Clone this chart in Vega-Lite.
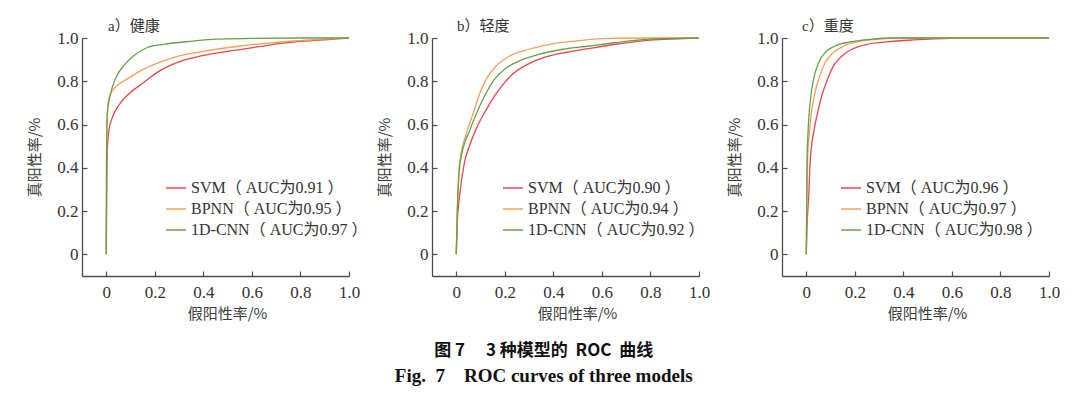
{
  "$schema": "https://vega.github.io/schema/vega-lite/v6.json",
  "padding": {"left": 27, "top": 19, "right": 5, "bottom": 5},
  "background": "white",
  "datasets": {
    "roc": [
      {"p":"a","m":"SVM","x":0,"y":0},{"p":"a","m":"SVM","x":0.002,"y":0.3},{"p":"a","m":"SVM","x":0.005,"y":0.5},{"p":"a","m":"SVM","x":0.012,"y":0.58},{"p":"a","m":"SVM","x":0.023,"y":0.626},{"p":"a","m":"SVM","x":0.05,"y":0.687},{"p":"a","m":"SVM","x":0.085,"y":0.733},{"p":"a","m":"SVM","x":0.154,"y":0.794},{"p":"a","m":"SVM","x":0.208,"y":0.84},{"p":"a","m":"SVM","x":0.26,"y":0.871},{"p":"a","m":"SVM","x":0.31,"y":0.894},{"p":"a","m":"SVM","x":0.39,"y":0.917},{"p":"a","m":"SVM","x":0.51,"y":0.94},{"p":"a","m":"SVM","x":0.63,"y":0.96},{"p":"a","m":"SVM","x":0.72,"y":0.975},{"p":"a","m":"SVM","x":0.85,"y":0.988},{"p":"a","m":"SVM","x":1,"y":1},
      {"p":"a","m":"BPNN","x":0,"y":0},{"p":"a","m":"BPNN","x":0.001,"y":0.4},{"p":"a","m":"BPNN","x":0.002,"y":0.58},{"p":"a","m":"BPNN","x":0.004,"y":0.656},{"p":"a","m":"BPNN","x":0.014,"y":0.733},{"p":"a","m":"BPNN","x":0.044,"y":0.779},{"p":"a","m":"BPNN","x":0.085,"y":0.81},{"p":"a","m":"BPNN","x":0.154,"y":0.856},{"p":"a","m":"BPNN","x":0.236,"y":0.894},{"p":"a","m":"BPNN","x":0.3,"y":0.917},{"p":"a","m":"BPNN","x":0.41,"y":0.94},{"p":"a","m":"BPNN","x":0.55,"y":0.963},{"p":"a","m":"BPNN","x":0.69,"y":0.979},{"p":"a","m":"BPNN","x":0.8,"y":0.988},{"p":"a","m":"BPNN","x":0.9,"y":0.995},{"p":"a","m":"BPNN","x":1,"y":1},
      {"p":"a","m":"1D-CNN","x":0,"y":0},{"p":"a","m":"1D-CNN","x":0.001,"y":0.426},{"p":"a","m":"1D-CNN","x":0.005,"y":0.656},{"p":"a","m":"1D-CNN","x":0.019,"y":0.748},{"p":"a","m":"1D-CNN","x":0.037,"y":0.81},{"p":"a","m":"1D-CNN","x":0.071,"y":0.871},{"p":"a","m":"1D-CNN","x":0.112,"y":0.917},{"p":"a","m":"1D-CNN","x":0.167,"y":0.955},{"p":"a","m":"1D-CNN","x":0.236,"y":0.971},{"p":"a","m":"1D-CNN","x":0.36,"y":0.986},{"p":"a","m":"1D-CNN","x":0.45,"y":0.995},{"p":"a","m":"1D-CNN","x":0.6,"y":0.998},{"p":"a","m":"1D-CNN","x":0.8,"y":1},{"p":"a","m":"1D-CNN","x":1,"y":1},
      {"p":"b","m":"SVM","x":0,"y":0},{"p":"b","m":"SVM","x":0.003,"y":0.12},{"p":"b","m":"SVM","x":0.014,"y":0.273},{"p":"b","m":"SVM","x":0.034,"y":0.426},{"p":"b","m":"SVM","x":0.055,"y":0.503},{"p":"b","m":"SVM","x":0.082,"y":0.58},{"p":"b","m":"SVM","x":0.117,"y":0.656},{"p":"b","m":"SVM","x":0.158,"y":0.733},{"p":"b","m":"SVM","x":0.199,"y":0.794},{"p":"b","m":"SVM","x":0.24,"y":0.84},{"p":"b","m":"SVM","x":0.31,"y":0.887},{"p":"b","m":"SVM","x":0.384,"y":0.917},{"p":"b","m":"SVM","x":0.45,"y":0.933},{"p":"b","m":"SVM","x":0.55,"y":0.952},{"p":"b","m":"SVM","x":0.65,"y":0.97},{"p":"b","m":"SVM","x":0.8,"y":0.99},{"p":"b","m":"SVM","x":1,"y":1},
      {"p":"b","m":"BPNN","x":0,"y":0},{"p":"b","m":"BPNN","x":0.003,"y":0.15},{"p":"b","m":"BPNN","x":0.014,"y":0.426},{"p":"b","m":"BPNN","x":0.027,"y":0.503},{"p":"b","m":"BPNN","x":0.048,"y":0.58},{"p":"b","m":"BPNN","x":0.071,"y":0.656},{"p":"b","m":"BPNN","x":0.093,"y":0.733},{"p":"b","m":"BPNN","x":0.123,"y":0.81},{"p":"b","m":"BPNN","x":0.165,"y":0.871},{"p":"b","m":"BPNN","x":0.22,"y":0.917},{"p":"b","m":"BPNN","x":0.3,"y":0.948},{"p":"b","m":"BPNN","x":0.384,"y":0.971},{"p":"b","m":"BPNN","x":0.49,"y":0.986},{"p":"b","m":"BPNN","x":0.6,"y":0.997},{"p":"b","m":"BPNN","x":0.75,"y":1},{"p":"b","m":"BPNN","x":1,"y":1},
      {"p":"b","m":"1D-CNN","x":0,"y":0},{"p":"b","m":"1D-CNN","x":0.003,"y":0.15},{"p":"b","m":"1D-CNN","x":0.016,"y":0.426},{"p":"b","m":"1D-CNN","x":0.058,"y":0.58},{"p":"b","m":"1D-CNN","x":0.085,"y":0.656},{"p":"b","m":"1D-CNN","x":0.117,"y":0.733},{"p":"b","m":"1D-CNN","x":0.158,"y":0.81},{"p":"b","m":"1D-CNN","x":0.199,"y":0.856},{"p":"b","m":"1D-CNN","x":0.26,"y":0.894},{"p":"b","m":"1D-CNN","x":0.343,"y":0.925},{"p":"b","m":"1D-CNN","x":0.44,"y":0.948},{"p":"b","m":"1D-CNN","x":0.55,"y":0.963},{"p":"b","m":"1D-CNN","x":0.65,"y":0.978},{"p":"b","m":"1D-CNN","x":0.8,"y":0.995},{"p":"b","m":"1D-CNN","x":1,"y":1},
      {"p":"c","m":"SVM","x":0,"y":0},{"p":"c","m":"SVM","x":0.003,"y":0.12},{"p":"c","m":"SVM","x":0.01,"y":0.273},{"p":"c","m":"SVM","x":0.016,"y":0.426},{"p":"c","m":"SVM","x":0.033,"y":0.58},{"p":"c","m":"SVM","x":0.047,"y":0.656},{"p":"c","m":"SVM","x":0.064,"y":0.733},{"p":"c","m":"SVM","x":0.088,"y":0.81},{"p":"c","m":"SVM","x":0.112,"y":0.871},{"p":"c","m":"SVM","x":0.147,"y":0.917},{"p":"c","m":"SVM","x":0.188,"y":0.948},{"p":"c","m":"SVM","x":0.25,"y":0.971},{"p":"c","m":"SVM","x":0.33,"y":0.982},{"p":"c","m":"SVM","x":0.44,"y":0.991},{"p":"c","m":"SVM","x":0.6,"y":0.998},{"p":"c","m":"SVM","x":1,"y":1},
      {"p":"c","m":"BPNN","x":0,"y":0},{"p":"c","m":"BPNN","x":0.002,"y":0.2},{"p":"c","m":"BPNN","x":0.005,"y":0.426},{"p":"c","m":"BPNN","x":0.014,"y":0.58},{"p":"c","m":"BPNN","x":0.033,"y":0.733},{"p":"c","m":"BPNN","x":0.051,"y":0.81},{"p":"c","m":"BPNN","x":0.078,"y":0.887},{"p":"c","m":"BPNN","x":0.112,"y":0.933},{"p":"c","m":"BPNN","x":0.154,"y":0.963},{"p":"c","m":"BPNN","x":0.208,"y":0.982},{"p":"c","m":"BPNN","x":0.29,"y":0.994},{"p":"c","m":"BPNN","x":0.4,"y":1},{"p":"c","m":"BPNN","x":1,"y":1},
      {"p":"c","m":"1D-CNN","x":0,"y":0},{"p":"c","m":"1D-CNN","x":0.002,"y":0.3},{"p":"c","m":"1D-CNN","x":0.003,"y":0.426},{"p":"c","m":"1D-CNN","x":0.008,"y":0.58},{"p":"c","m":"1D-CNN","x":0.019,"y":0.733},{"p":"c","m":"1D-CNN","x":0.03,"y":0.81},{"p":"c","m":"1D-CNN","x":0.051,"y":0.887},{"p":"c","m":"1D-CNN","x":0.078,"y":0.933},{"p":"c","m":"1D-CNN","x":0.119,"y":0.963},{"p":"c","m":"1D-CNN","x":0.18,"y":0.982},{"p":"c","m":"1D-CNN","x":0.263,"y":0.994},{"p":"c","m":"1D-CNN","x":0.35,"y":1},{"p":"c","m":"1D-CNN","x":1,"y":1}
    ]
  },
  "title": {
    "text": "图\u00a07\u3000\u00a03\u00a0种模型的\u00a0\u00a0ROC\u00a0\u00a0曲线",
    "subtitle": "Fig.\u00a0\u00a07\u3000ROC curves of three models",
    "orient": "bottom",
    "anchor": "middle",
    "frame": "bounds",
    "offset": 22,
    "font": "Noto Sans CJK SC",
    "fontSize": 17,
    "fontWeight": "bold",
    "color": "#111",
    "subtitleFont": "Liberation Serif",
    "subtitleFontSize": 19,
    "subtitleFontWeight": "bold",
    "subtitleColor": "#111",
    "subtitlePadding": 7
  },
  "config": {
    "view": {"stroke": null},
    "axis": {
      "grid": false,
      "domainColor": "#4d4d4d",
      "domainWidth": 1.3,
      "tickColor": "#4d4d4d",
      "tickWidth": 1.2,
      "tickSize": -5,
      "labelFont": "Liberation Serif",
      "labelFontSize": 17,
      "labelColor": "#333",
      "labelFlush": false,
      "titleFont": "Noto Sans CJK SC",
      "titleFontSize": 15,
      "titleFontWeight": "normal",
      "titleColor": "#3a3a3a"
    },
    "axisX": {"labelPadding": 13, "titlePadding": 6},
    "axisY": {"labelPadding": 9, "titlePadding": 14},
    "legend": {
      "orient": "none",
      "title": null,
      "symbolType": "stroke",
      "symbolSize": 400,
      "symbolStrokeWidth": 1.5,
      "labelFont": "Liberation Serif, Noto Sans CJK SC",
      "labelFontSize": 16,
      "labelColor": "#333",
      "labelLimit": 300,
      "labelOffset": 4,
      "rowPadding": 2,
      "legendY": 139
    },
    "title": {
      "anchor": "start",
      "frame": "group",
      "offset": -5,
      "font": "Liberation Serif, Noto Sans CJK SC",
      "fontSize": 15,
      "fontWeight": "normal",
      "color": "#333"
    }
  },
  "bounds": "flush",
  "spacing": 83,
  "resolve": {"scale": {"color": "independent"}, "legend": {"color": "independent"}},
  "hconcat": [
    {
      "width": 267, "height": 238,
      "title": {"text": "a）健康", "dx": 26},
      "data": {"name": "roc"},
      "transform": [{"filter": "datum.p == 'a'"}],
      "mark": {"type": "line", "strokeWidth": 1.3, "interpolate": "monotone"},
      "encoding": {
        "x": {"field": "x", "type": "quantitative", "scale": {"domain": [-0.1, 1], "nice": false}, "axis": {"values": [0, 0.2, 0.4, 0.6, 0.8, 1], "labelExpr": "datum.value == 0 ? '0' : format(datum.value, '.1f')", "title": "假阳性率/%", "titleX": 145}},
        "y": {"field": "y", "type": "quantitative", "scale": {"domain": [-0.1, 1], "nice": false}, "axis": {"values": [0, 0.2, 0.4, 0.6, 0.8, 1], "labelExpr": "datum.value == 0 ? '0' : format(datum.value, '.1f')", "title": "真阳性率/%"}},
        "color": {"field": "m", "type": "nominal", "scale": {"domain": ["SVM", "BPNN", "1D-CNN"], "range": ["#e8474b", "#f0a05a", "#6a9f4a"]}, "legend": {"legendX": 83, "labelExpr": "{'SVM': 'SVM（ AUC为0.91 ）', 'BPNN': 'BPNN（ AUC为0.95 ）', '1D-CNN': '1D-CNN（ AUC为0.97 ）'}[datum.label]"}}
      }
    },
    {
      "width": 267, "height": 238,
      "title": {"text": "b）轻度", "dx": 25},
      "data": {"name": "roc"},
      "transform": [{"filter": "datum.p == 'b'"}],
      "mark": {"type": "line", "strokeWidth": 1.3, "interpolate": "monotone"},
      "encoding": {
        "x": {"field": "x", "type": "quantitative", "scale": {"domain": [-0.1, 1], "nice": false}, "axis": {"values": [0, 0.2, 0.4, 0.6, 0.8, 1], "labelExpr": "datum.value == 0 ? '0' : format(datum.value, '.1f')", "title": "假阳性率/%", "titleX": 145}},
        "y": {"field": "y", "type": "quantitative", "scale": {"domain": [-0.1, 1], "nice": false}, "axis": {"values": [0, 0.2, 0.4, 0.6, 0.8, 1], "labelExpr": "datum.value == 0 ? '0' : format(datum.value, '.1f')", "title": "真阳性率/%"}},
        "color": {"field": "m", "type": "nominal", "scale": {"domain": ["SVM", "BPNN", "1D-CNN"], "range": ["#e8474b", "#f0a05a", "#6a9f4a"]}, "legend": {"legendX": 70, "labelExpr": "{'SVM': 'SVM（ AUC为0.90 ）', 'BPNN': 'BPNN（ AUC为0.94 ）', '1D-CNN': '1D-CNN（ AUC为0.92 ）'}[datum.label]"}}
      }
    },
    {
      "width": 267, "height": 238,
      "title": {"text": "c）重度", "dx": 20},
      "data": {"name": "roc"},
      "transform": [{"filter": "datum.p == 'c'"}],
      "mark": {"type": "line", "strokeWidth": 1.3, "interpolate": "monotone"},
      "encoding": {
        "x": {"field": "x", "type": "quantitative", "scale": {"domain": [-0.1, 1], "nice": false}, "axis": {"values": [0, 0.2, 0.4, 0.6, 0.8, 1], "labelExpr": "datum.value == 0 ? '0' : format(datum.value, '.1f')", "title": "假阳性率/%", "titleX": 145}},
        "y": {"field": "y", "type": "quantitative", "scale": {"domain": [-0.1, 1], "nice": false}, "axis": {"values": [0, 0.2, 0.4, 0.6, 0.8, 1], "labelExpr": "datum.value == 0 ? '0' : format(datum.value, '.1f')", "title": "真阳性率/%"}},
        "color": {"field": "m", "type": "nominal", "scale": {"domain": ["SVM", "BPNN", "1D-CNN"], "range": ["#e8474b", "#f0a05a", "#6a9f4a"]}, "legend": {"legendX": 58, "labelExpr": "{'SVM': 'SVM（ AUC为0.96 ）', 'BPNN': 'BPNN（ AUC为0.97 ）', '1D-CNN': '1D-CNN（ AUC为0.98 ）'}[datum.label]"}}
      }
    }
  ]
}
